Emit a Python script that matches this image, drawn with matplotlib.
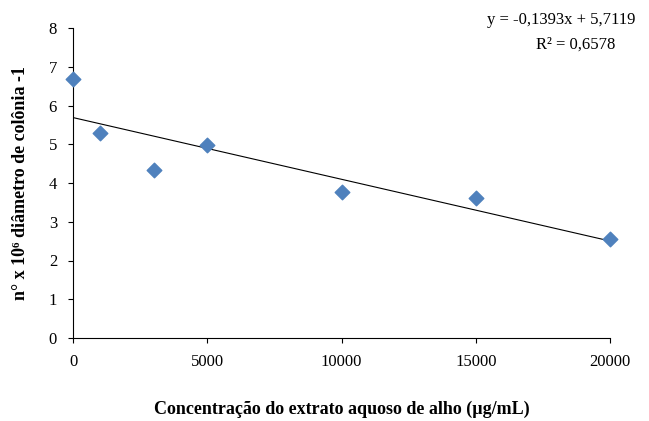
import matplotlib
matplotlib.use("Agg")
import matplotlib.pyplot as plt
import numpy as np

plt.rcParams['font.family'] = ['Liberation Serif', 'DejaVu Serif']

conc = [0, 1000, 3000, 5000, 10000, 15000, 20000]
values = [6.68, 5.30, 4.33, 4.97, 3.77, 3.62, 2.55]

fig = plt.figure(figsize=(6.49, 4.21), dpi=100)
ax = fig.add_axes([73/649, 83/421, (610-73)/649, (338-28)/421])
ax.scatter(conc, values, marker='D', s=55, color='#4F81BD', zorder=3, clip_on=False)
m, b = np.polyfit(conc, values, 1)
xs = np.array([0, 20000])
ax.plot(xs, m*xs + b, color='black', lw=0.8)
ax.set_xlim(0, 20000)
ax.set_ylim(0, 8)
ax.set_xticks([0, 5000, 10000, 15000, 20000])
ax.set_yticks(range(0, 9))
ax.tick_params(labelsize=12, pad=8)
for s in ['top', 'right']:
    ax.spines[s].set_visible(False)
ax.set_xlabel('Concentração do extrato aquoso de alho (µg/mL)', fontsize=13, fontweight='bold', labelpad=22)
ax.set_ylabel('n° x 10⁶ diâmetro de colônia -1', fontsize=13, fontweight='bold', labelpad=14)
fig.text(0.865, 0.952, 'y = -0,1393x + 5,7119', ha='center', va='center', fontsize=12)
fig.text(0.887, 0.895, 'R² = 0,6578', ha='center', va='center', fontsize=12)
fig.savefig('out.png', dpi=100)
